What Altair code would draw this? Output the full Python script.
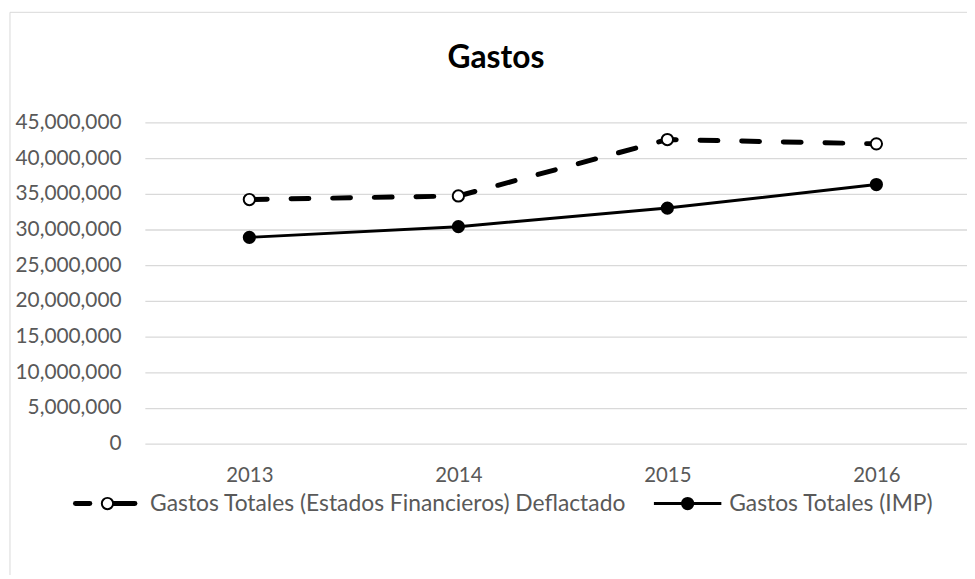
import altair as alt
import pandas as pd

title_text = "Gastos"
years = ["2013", "2014", "2015", "2016"]
series_names = [
    "Gastos Totales (Estados Financieros) Deflactado",
    "Gastos Totales (IMP)",
]
deflactado = [34200000, 34700000, 42600000, 42000000]
imp = [28900000, 30400000, 33000000, 36300000]
y_ticks = [0, 5000000, 10000000, 15000000, 20000000, 25000000,
           30000000, 35000000, 40000000, 45000000]

df = pd.DataFrame({
    "year": years * 2,
    "value": deflactado + imp,
    "series": [series_names[0]] * 4 + [series_names[1]] * 4,
})

FONT = "Lato"
GRAY = "#595959"

x_enc = alt.X("year:O", title=None,
              scale=alt.Scale(type="point", range=[0, 843], padding=0.5),
              axis=alt.Axis(labelAngle=0, ticks=False, domain=False, grid=False,
                            labelColor=GRAY, labelFont=FONT, labelFontSize=20.5,
                            labelPadding=22))
y_enc = alt.Y("value:Q", title=None,
              scale=alt.Scale(domain=[0, 45000000], nice=False),
              axis=alt.Axis(values=y_ticks, format=",d", ticks=False, domain=False,
                            grid=True, gridColor="#d9d9d9", gridWidth=1.3,
                            labelColor=GRAY, labelFont=FONT, labelFontSize=21,
                            labelPadding=24))

base = alt.Chart(df)
d_data = base.transform_filter(alt.datum.series == series_names[0])
i_data = base.transform_filter(alt.datum.series == series_names[1])

line_d = d_data.mark_line(color="black", strokeWidth=5, strokeDash=[18, 24],
                          strokeCap="round").encode(x=x_enc, y=y_enc)
line_i = i_data.mark_line(color="black", strokeWidth=3).encode(x=x_enc, y=y_enc)
pt_d = d_data.mark_point(shape="circle", filled=False, fill="white", fillOpacity=1,
                         stroke="black", strokeWidth=2, size=130, opacity=1
                         ).encode(x=x_enc, y=y_enc)
pt_i = i_data.mark_point(shape="circle", filled=True, color="black", size=177,
                         opacity=1).encode(x=x_enc, y=y_enc)

one = pd.DataFrame({"a": [0]})

# decorative chart frame
frame = alt.Chart(one).mark_rect(
    fill=None, stroke="#d9d9d9", strokeWidth=1, clip=False
).encode(x=alt.value(-136), x2=alt.value(1000), y=alt.value(-111), y2=alt.value(700))

# chart title
title = alt.Chart(one).mark_text(text=title_text, align="center", baseline="alphabetic",
                                 font=FONT, fontSize=32, fontWeight="bold",
                                 color="black").encode(
    x=alt.value(354), y=alt.value(-55))

# custom legend
LY = 384.3
TY = 391.8
LFS = 23
leg = []
leg.append(alt.Chart(one).mark_rule(color="black", strokeWidth=5, strokeCap="round").encode(
    x=alt.value(-70), x2=alt.value(-55.5), y=alt.value(LY)))
leg.append(alt.Chart(one).mark_rule(color="black", strokeWidth=5, strokeCap="round").encode(
    x=alt.value(-36), x2=alt.value(-10), y=alt.value(LY)))
leg.append(alt.Chart(one).mark_point(shape="circle", filled=False, fill="white", fillOpacity=1,
                                     stroke="black", strokeWidth=2, size=130, opacity=1).encode(
    x=alt.value(-37.7), y=alt.value(LY)))
leg.append(alt.Chart(one).mark_text(text=series_names[0], align="left", baseline="alphabetic",
                                    font=FONT, fontSize=LFS, color=GRAY).encode(
    x=alt.value(5.3), y=alt.value(TY)))
leg.append(alt.Chart(one).mark_rule(color="black", strokeWidth=3).encode(
    x=alt.value(513.3), x2=alt.value(581.3), y=alt.value(LY)))
leg.append(alt.Chart(one).mark_point(shape="circle", filled=True, color="black", size=177,
                                     opacity=1).encode(
    x=alt.value(547.3), y=alt.value(LY)))
leg.append(alt.Chart(one).mark_text(text=series_names[1], align="left", baseline="alphabetic",
                                    font=FONT, fontSize=LFS, color=GRAY).encode(
    x=alt.value(589.3), y=alt.value(TY)))

chart = alt.layer(frame, title, line_d, line_i, pt_d, pt_i, *leg).properties(
    width=829, height=324,
    autosize=alt.AutoSizeParams(type="none"),
    padding={"left": 138, "top": 113, "right": 0, "bottom": 130},
    background="white",
).configure_view(stroke=None)

chart.save("out.html", embed_options={"renderer": "svg", "actions": False})
